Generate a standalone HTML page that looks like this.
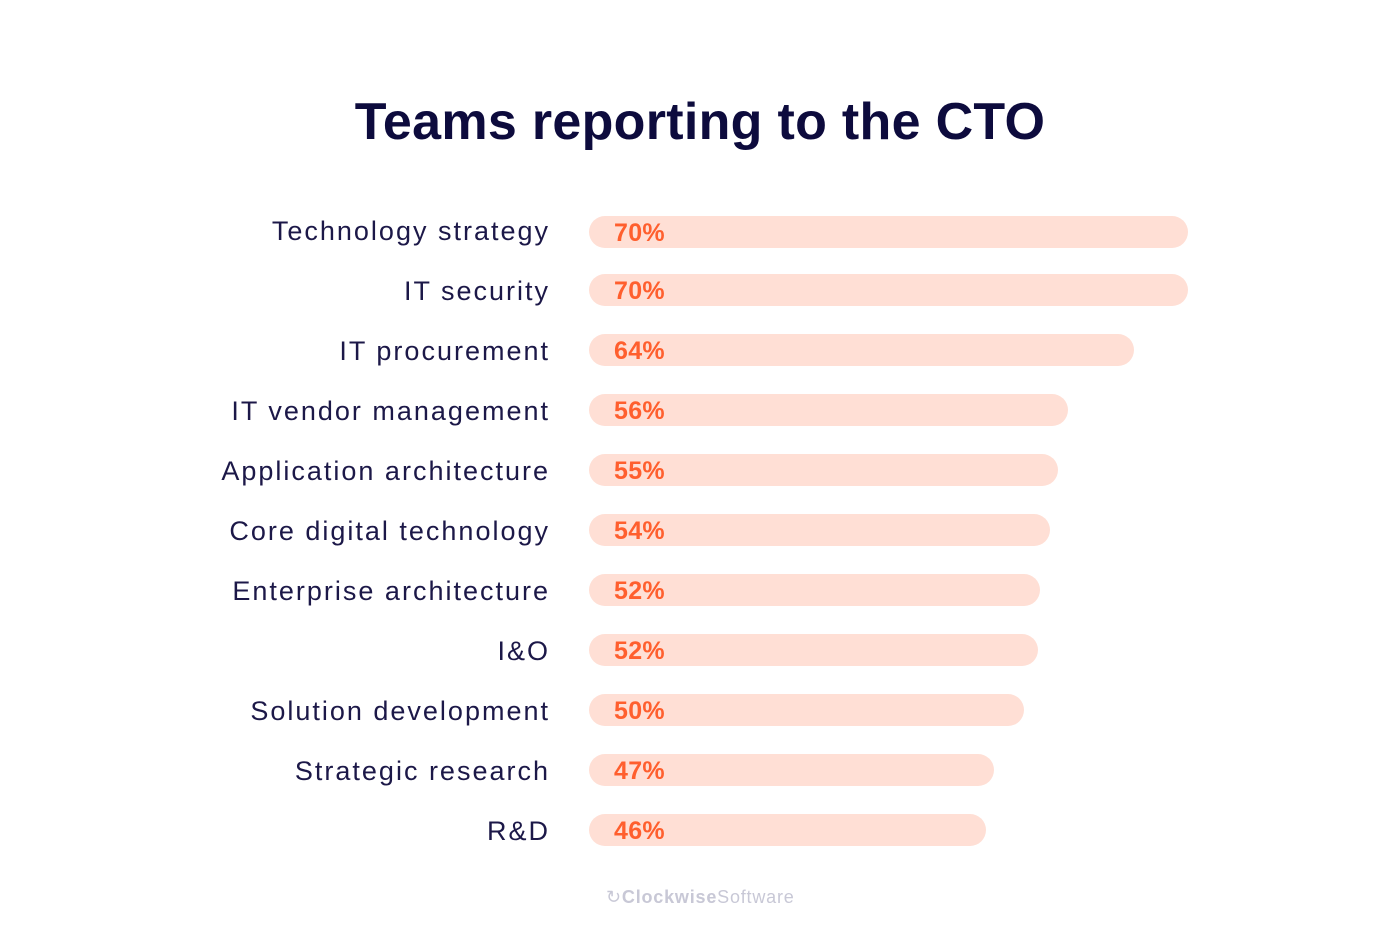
<!DOCTYPE html>
<html><head><style>
body{margin:0;width:1400px;height:938px;background:#fff;font-family:"Liberation Sans",sans-serif;position:relative;overflow:hidden}
h1{position:absolute;top:92px;left:0;width:1400px;text-align:center;margin:0;font-size:52px;font-weight:bold;color:#0d0b3d;letter-spacing:0.3px}
.lbl{position:absolute;right:852px;font-size:27px;color:#1c1848;line-height:32px;white-space:nowrap;letter-spacing:2px;margin-right:-2px}
.bar{position:absolute;left:589px;height:32px;border-radius:16px;background:#ffdfd5}
.bar span{position:absolute;left:25px;top:1px;font-size:25px;font-weight:bold;color:#ff5f2e;line-height:32px;letter-spacing:0.3px}
.foot{position:absolute;top:887px;left:606px;font-size:18px;color:#c8c8d6;letter-spacing:0.8px}
</style></head><body>
<h1>Teams reporting to the CTO</h1>
<div class="lbl" style="top:215px">Technology strategy</div><div class="bar" style="top:216px;width:599px"><span>70%</span></div>
<div class="lbl" style="top:275px">IT security</div><div class="bar" style="top:274px;width:599px"><span>70%</span></div>
<div class="lbl" style="top:335px">IT procurement</div><div class="bar" style="top:334px;width:545px"><span>64%</span></div>
<div class="lbl" style="top:395px">IT vendor management</div><div class="bar" style="top:394px;width:479px"><span>56%</span></div>
<div class="lbl" style="top:455px">Application architecture</div><div class="bar" style="top:454px;width:469px"><span>55%</span></div>
<div class="lbl" style="top:515px">Core digital technology</div><div class="bar" style="top:514px;width:461px"><span>54%</span></div>
<div class="lbl" style="top:575px">Enterprise architecture</div><div class="bar" style="top:574px;width:451px"><span>52%</span></div>
<div class="lbl" style="top:635px">I&amp;O</div><div class="bar" style="top:634px;width:449px"><span>52%</span></div>
<div class="lbl" style="top:695px">Solution development</div><div class="bar" style="top:694px;width:435px"><span>50%</span></div>
<div class="lbl" style="top:755px">Strategic research</div><div class="bar" style="top:754px;width:405px"><span>47%</span></div>
<div class="lbl" style="top:815px">R&amp;D</div><div class="bar" style="top:814px;width:397px"><span>46%</span></div>
<div class="foot">&#x21BB;<b>Clockwise</b>Software</div>
</body></html>
